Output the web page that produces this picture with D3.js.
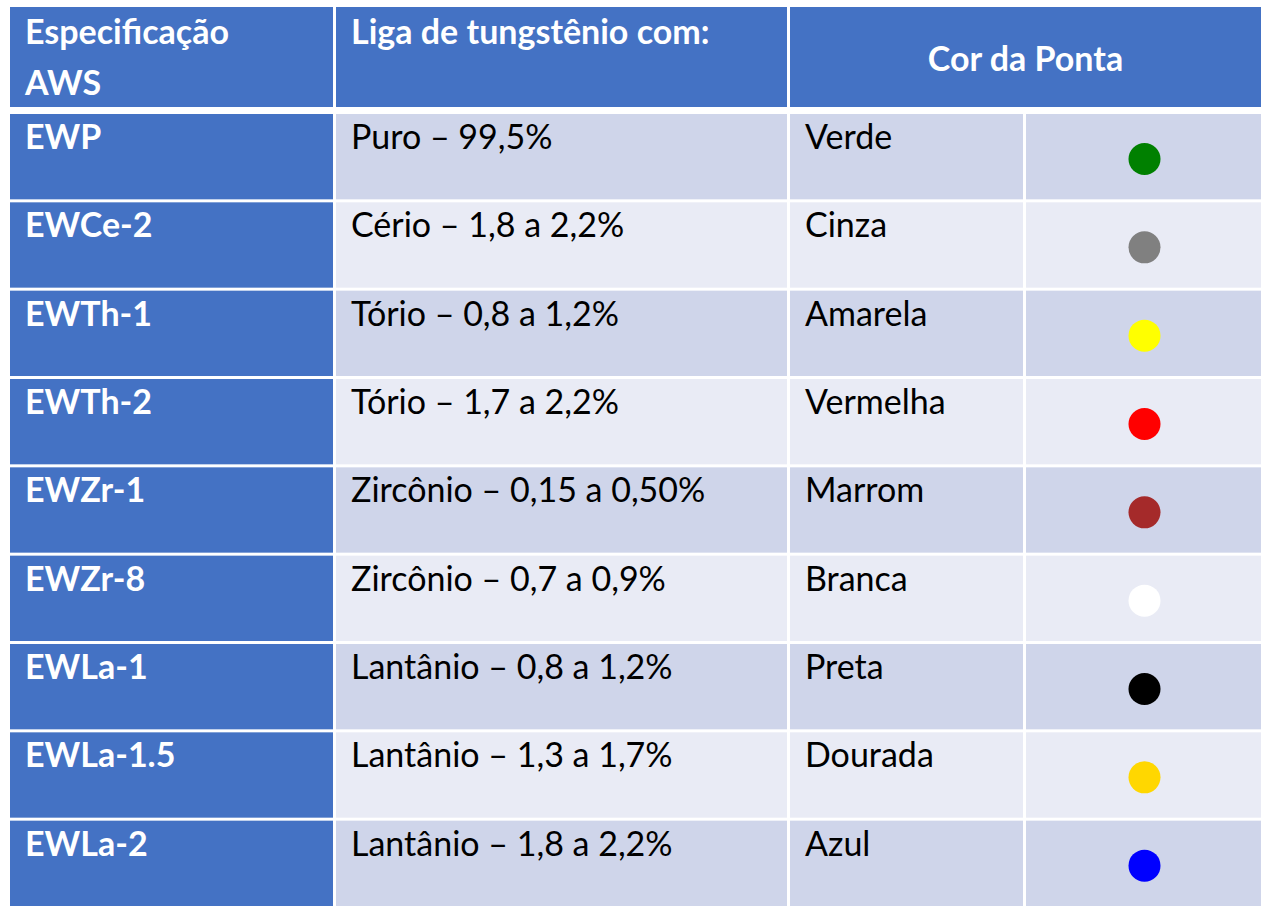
<!DOCTYPE html>
<html>
<head>
  <script src="https://d3js.org/d3.v7.min.js"></script>
  <style>
    body { margin: 0; background: #fff; }
    text { font-family: Lato, "Open Sans", sans-serif; font-size: 34px; }
    .head { fill: #fff; font-weight: bold; }
    .cell { fill: #000; }
  </style>
</head>
<body>
  <div id="chart"></div>
  <script>
    var specs = ["EWP", "EWCe-2", "EWTh-1", "EWTh-2", "EWZr-1", "EWZr-8", "EWLa-1", "EWLa-1.5", "EWLa-2"];
    var alloys = ["Puro – 99,5%", "Cério – 1,8 a 2,2%", "Tório – 0,8 a 1,2%", "Tório – 1,7 a 2,2%",
      "Zircônio – 0,15 a 0,50%", "Zircônio – 0,7 a 0,9%", "Lantânio – 0,8 a 1,2%",
      "Lantânio – 1,3 a 1,7%", "Lantânio – 1,8 a 2,2%"];
    var colorNames = ["Verde", "Cinza", "Amarela", "Vermelha", "Marrom", "Branca", "Preta", "Dourada", "Azul"];
    var tipColors = ["#008000", "#808080", "#ffff00", "#ff0000", "#a52a2a", "#ffffff", "#000000", "#ffd700", "#0000ff"];
    var headers = ["Especificação\nAWS", "Liga de tungstênio com:", "Cor da Ponta"];

    var width = 1276, height = 917;
    var svg = d3.select("#chart").append("svg").attr("width", width).attr("height", height);

    // column edges
    var cols = [10, 336, 790, 1026, 1264];
    var gap = 3;
    var y = d3.scaleBand().domain(d3.range(specs.length)).range([114, 906]).paddingInner(0.034);
    var headTop = 7, headBottom = 107;
    var blue = "#4472c4";

    // header
    [[0, 1], [1, 2], [2, 4]].forEach(function(c, i) {
      svg.append("rect").attr("x", cols[c[0]]).attr("y", headTop)
        .attr("width", cols[c[1]] - cols[c[0]] - gap).attr("height", headBottom - headTop).attr("fill", blue);
      var t = svg.append("text").attr("class", "head");
      if (i == 2) {
        t.attr("x", (cols[2] + cols[4] - gap) / 2).attr("y", 71).attr("text-anchor", "middle").text(headers[i]);
      } else {
        headers[i].split("\n").forEach(function(line, k) {
          t.append("tspan").attr("x", cols[c[0]] + 15).attr("y", 44 + k * 51).text(line);
        });
      }
    });

    var rows = svg.selectAll("g.row").data(specs).enter().append("g").attr("class", "row")
      .attr("transform", function(d, i) { return "translate(0," + y(i) + ")"; });

    rows.each(function(d, i) {
      var g = d3.select(this);
      var bg = i % 2 == 0 ? "#cfd5ea" : "#e9ebf5";
      for (var c = 0; c < 4; c++) {
        g.append("rect").attr("x", cols[c]).attr("y", 0)
          .attr("width", cols[c + 1] - cols[c] - gap).attr("height", y.bandwidth())
          .attr("fill", c == 0 ? blue : bg);
      }
      g.append("text").attr("class", "head").attr("x", cols[0] + 15).attr("y", 35).text(specs[i]);
      g.append("text").attr("class", "cell").attr("x", cols[1] + 15).attr("y", 35).text(alloys[i]);
      g.append("text").attr("class", "cell").attr("x", cols[2] + 15).attr("y", 35).text(colorNames[i]);
      g.append("circle").attr("cx", (cols[3] + cols[4] - gap) / 2 + 1).attr("cy", 45).attr("r", 16)
        .attr("fill", tipColors[i]);
    });
  </script>
</body>
</html>
